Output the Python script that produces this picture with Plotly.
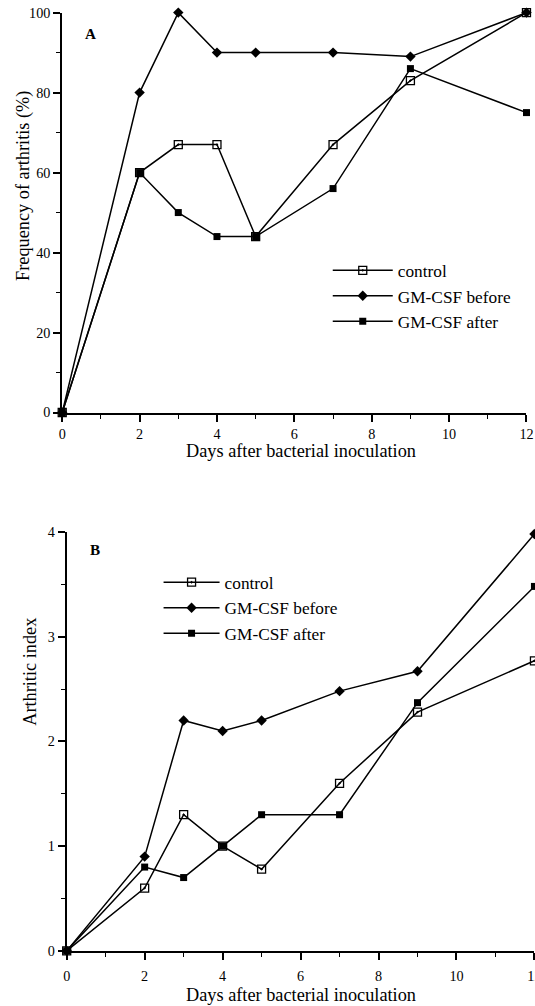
import plotly.graph_objects as go

# ---- data ----
days = [0, 2, 3, 4, 5, 7, 9, 12]
series_names = ["control", "GM-CSF before", "GM-CSF after"]

freq_control = [0, 60, 67, 67, 44, 67, 83, 100]
freq_before = [0, 80, 100, 90, 90, 90, 89, 100]
freq_after = [0, 60, 50, 44, 44, 56, 86, 75]

index_control = [0, 0.6, 1.3, 1.0, 0.78, 1.6, 2.28, 2.77]
index_before = [0, 0.9, 2.2, 2.1, 2.2, 2.48, 2.67, 3.98]
index_after = [0, 0.8, 0.7, 1.0, 1.3, 1.3, 2.37, 3.48]

x_ticks = [0, 2, 4, 6, 8, 10, 12]
freq_ticks = [0, 20, 40, 60, 80, 100]
index_ticks = [0, 1, 2, 3, 4]

# ---- geometry: positions below are given in target-picture pixels ----
S = 0.9845          # picture scale observed for this page
OFF_Y = 8           # vertical offset observed for this page
W, H = 544, 1014
FONT = "Liberation Serif"


def px_x(p):
    return (p / S) / W


def px_y(p):
    return 1 - (p / S - OFF_Y) / H


def fs(v):
    return round(v / S, 1)


marker_styles = [
    dict(symbol="square-open-dot", size=8, color="black", line=dict(width=1.3, color="black")),
    dict(symbol="diamond", size=8, color="black"),
    dict(symbol="square", size=7, color="black"),
]

fig = go.Figure()

for name, vals, mk in zip(series_names, [freq_control, freq_before, freq_after], marker_styles):
    fig.add_trace(go.Scatter(
        x=days, y=vals, name=name, mode="lines+markers",
        line=dict(color="black", width=1.5), marker=mk,
        xaxis="x", yaxis="y", legend="legend", cliponaxis=False,
    ))

for name, vals, mk in zip(series_names, [index_control, index_before, index_after], marker_styles):
    fig.add_trace(go.Scatter(
        x=days, y=vals, name=name, mode="lines+markers",
        line=dict(color="black", width=1.5), marker=mk,
        xaxis="x2", yaxis="y2", legend="legend2", cliponaxis=False,
    ))

axis_common = dict(
    showline=True, linewidth=2, linecolor="black", mirror=False,
    ticks="outside", ticklen=7, tickwidth=1.5, tickcolor="black",
    showgrid=False, zeroline=False,
    tickfont=dict(family=FONT, size=fs(14), color="black"),
)


def minor(dt):
    return dict(dtick=dt, ticks="outside", ticklen=4, tickwidth=1.2, tickcolor="black")


fig.update_layout(
    width=W, height=H,
    margin=dict(l=0, r=0, t=0, b=0),
    paper_bgcolor="white", plot_bgcolor="white",
    font=dict(family=FONT, color="black", size=fs(18)),
    xaxis=dict(domain=[px_x(58.5), px_x(525)], range=[0, 12], tickvals=x_ticks, anchor="y",
               minor=minor(1), **axis_common),
    yaxis=dict(domain=[px_y(412.5), px_y(12.5)], range=[0, 100], tickvals=freq_ticks, anchor="x",
               minor=minor(10), **axis_common),
    xaxis2=dict(domain=[px_x(63), px_x(533)], range=[0, 12], tickvals=x_ticks, anchor="y2",
                ticklabelstandoff=4, minor=minor(1), **axis_common),
    yaxis2=dict(domain=[px_y(951), px_y(532)], range=[0, 4], tickvals=index_ticks, anchor="x2",
                minor=minor(0.5), **axis_common),
    legend=dict(x=(345 / S - 20) / W, y=px_y(252.5), xanchor="left", yanchor="top",
                font=dict(family=FONT, size=fs(17), color="black"), itemwidth=60,
                bgcolor="rgba(0,0,0,0)", borderwidth=0),
    legend2=dict(x=(175 / S - 20) / W, y=px_y(564.5), xanchor="left", yanchor="top",
                 font=dict(family=FONT, size=fs(17), color="black"), itemwidth=56,
                 bgcolor="rgba(0,0,0,0)", borderwidth=0),
    showlegend=True,
)

annotations = [
    dict(text="<b>A</b>", x=px_x(87), y=px_y(33), font=dict(size=fs(15))),
    dict(text="<b>B</b>", x=px_x(91), y=px_y(550), font=dict(size=fs(15))),
    dict(text="Frequency of arthritis (%)", x=px_x(19), y=px_y(186), textangle=-90, font=dict(size=fs(18))),
    dict(text="Days after bacterial inoculation", x=px_x(298), y=px_y(451), font=dict(size=fs(18))),
    dict(text="Arthritic index", x=px_x(26), y=px_y(672), textangle=-90, font=dict(size=fs(18))),
    dict(text="Days after bacterial inoculation", x=px_x(298), y=px_y(995), font=dict(size=fs(18))),
]
for a in annotations:
    fig.add_annotation(xref="paper", yref="paper", xanchor="center", yanchor="middle",
                       showarrow=False, borderpad=0, **a)

fig.write_html("out.html", config={"displayModeBar": False},
               post_script="document.body.style.margin='0px';")
